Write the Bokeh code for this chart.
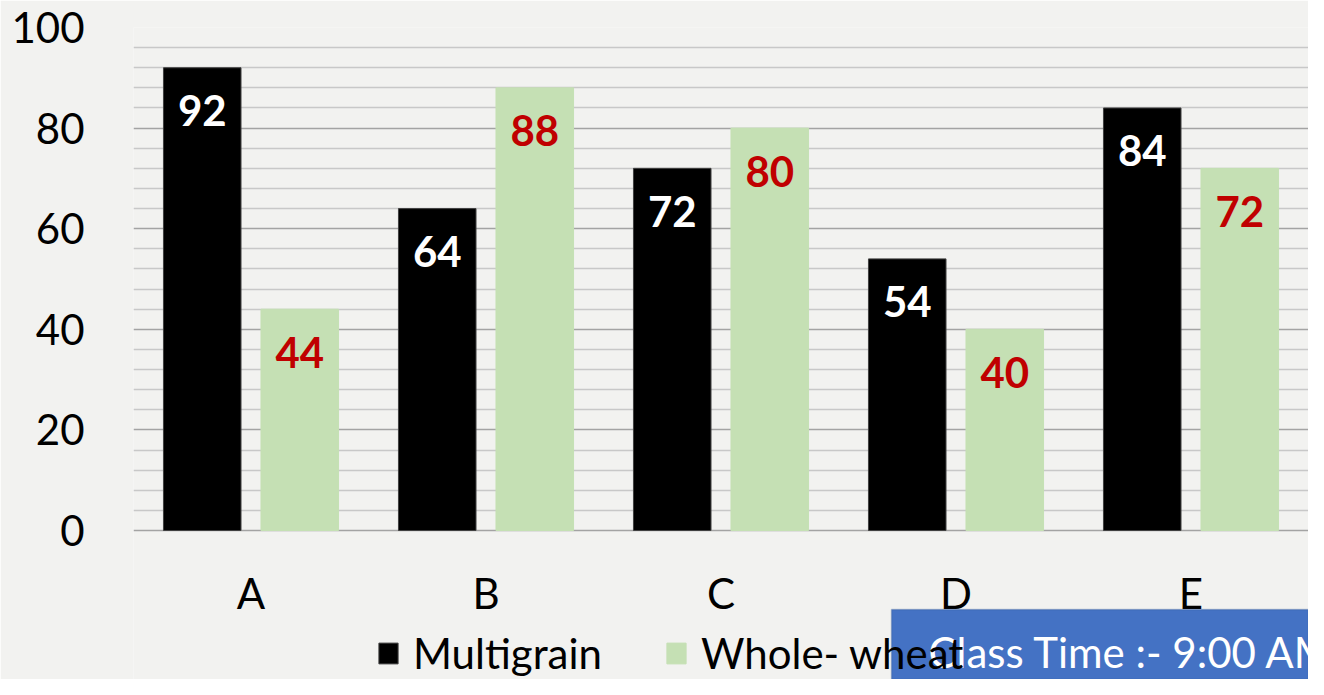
from bokeh.plotting import figure
from bokeh.models import (ColumnDataSource, FixedTicker, Legend, LegendItem,
                          BoxAnnotation, Label)
from bokeh.transform import dodge
from bokeh.core.properties import value
from bokeh.embed import file_html
from bokeh.resources import INLINE

categories = ["A", "B", "C", "D", "E"]
multigrain = [92, 64, 72, 54, 84]
whole_wheat = [44, 88, 80, 40, 72]
y_ticks = [0, 20, 40, 60, 80, 100]
y_minor = [v for v in range(4, 100, 4) if v % 20 != 0]
note_text = "Class Time :- 9:00 AM"

BG = "#f2f2f0"
FONT = "Lato"
PX_PER_UNIT = 503 / 100.0          # plot height of 0..100 in pixels
BELOW = 149 / PX_PER_UNIT           # room under the baseline for labels/legend

src = ColumnDataSource(dict(
    cat=categories,
    mg=multigrain,
    ww=whole_wheat,
    mg_lab=[str(v) for v in multigrain],
    ww_lab=[str(v) for v in whole_wheat],
))
cat_src = ColumnDataSource(dict(cat=categories, y=[-12.4] * len(categories)))

p = figure(x_range=categories, y_range=(-BELOW, 100), width=1308, height=679,
           output_backend="svg", toolbar_location=None,
           min_border_left=133, min_border_right=0, min_border_top=27,
           min_border_bottom=0)
p.background_fill_color = BG
p.border_fill_color = BG
p.outline_line_color = None

r1 = p.vbar(x=dodge("cat", -0.2075, range=p.x_range), top="mg", bottom=0, width=0.33,
            source=src, fill_color="#000000", line_color="#404040", line_width=1)
r2 = p.vbar(x=dodge("cat", 0.2075, range=p.x_range), top="ww", bottom=0, width=0.33,
            source=src, fill_color="#c5e0b4", line_color="#c5e0b4", line_width=1)

p.text(x=dodge("cat", -0.2075, range=p.x_range), y="mg", text="mg_lab", source=src,
       text_color="white", text_font=value(FONT), text_font_size="42px",
       text_font_style="bold", text_align="center", text_baseline="middle",
       y_offset=43)
p.text(x=dodge("cat", 0.2075, range=p.x_range), y="ww", text="ww_lab", source=src,
       text_color="#c00000", text_font=value(FONT), text_font_size="42px",
       text_font_style="bold", text_align="center", text_baseline="middle",
       y_offset=43)

# category labels under the baseline
p.text(x="cat", y="y", text="cat", source=cat_src, text_color="#000000",
       text_font=value(FONT), text_font_size="42px", text_align="center",
       text_baseline="middle")

# axes
p.xaxis.visible = False
p.yaxis.ticker = FixedTicker(ticks=y_ticks, minor_ticks=y_minor)
p.yaxis.axis_line_color = None
p.yaxis.major_tick_line_color = None
p.yaxis.minor_tick_line_color = None
p.yaxis.major_tick_out = 0
p.yaxis.major_label_standoff = 45
p.yaxis.major_label_text_font = FONT
p.yaxis.major_label_text_font_size = "42px"
p.yaxis.major_label_text_color = "#000000"

p.xgrid.grid_line_color = None
p.ygrid.grid_line_color = "#a3a3a3"
p.ygrid.grid_line_width = 1.5
p.ygrid.minor_grid_line_color = "#c8c8c8"
p.ygrid.minor_grid_line_width = 1.5

# blue note box (bottom right)
box = BoxAnnotation(left=758, left_units="screen", top=-15.7, top_units="data",
                    fill_color="#4472c4", fill_alpha=1.0,
                    line_color="#2f528f", line_width=1.5)
p.add_layout(box)
note = Label(x=795, x_units="screen", y=-24.2, y_units="data", text=note_text,
             text_color="white", text_font=FONT, text_font_size="42px",
             text_baseline="alphabetic")
p.add_layout(note)

legend = Legend(items=[LegendItem(label="Multigrain", renderers=[r1]),
                       LegendItem(label="Whole- wheat", renderers=[r2])],
                location=(243, 1), orientation="horizontal",
                glyph_width=24, glyph_height=26, label_standoff=13, spacing=62,
                padding=0, margin=0, background_fill_alpha=0,
                border_line_color=None, label_text_font=FONT,
                label_text_font_size="42px", label_text_color="#000000")
p.add_layout(legend)

open("out.html", "w").write(file_html(p, INLINE))
